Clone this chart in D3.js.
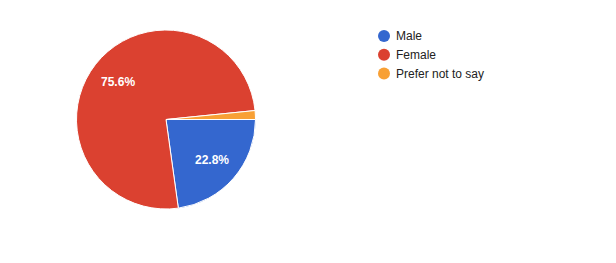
<!DOCTYPE html>
<html>
<head>
<meta charset="utf-8">
<script src="https://cdn.jsdelivr.net/npm/d3@7"></script>
<style>
  body { margin: 0; background: #fff; }
  text { font-family: Arial, "Liberation Sans", sans-serif; }
</style>
</head>
<body>
<svg></svg>
<script>
const categories = ["Male", "Female", "Prefer not to say"];
const values = [22.8, 75.6, 1.6];
const colors = ["#3467cf", "#db4130", "#f8a035"];

const width = 616;
const height = 263;
const cx = 166, cy = 119.5, radius = 89.5;

const svg = d3.select("svg").attr("width", width).attr("height", height);

const data = categories.map((c, i) => ({ name: c, value: values[i], color: colors[i] }));

// slices start at 3 o'clock and go clockwise
const pie = d3.pie()
  .value((d) => d.value)
  .sort(null)
  .startAngle(Math.PI / 2)
  .endAngle(Math.PI / 2 + 2 * Math.PI);

const arc = d3.arc().innerRadius(0).outerRadius(radius);
const labelArc = d3.arc().innerRadius(61).outerRadius(61);

const g = svg.append("g").attr("transform", `translate(${cx},${cy})`);

const arcs = pie(data);

g.selectAll("path")
  .data(arcs)
  .enter()
  .append("path")
  .attr("d", arc)
  .attr("fill", (d) => d.data.color)
  .attr("stroke", "#fff")
  .attr("stroke-width", 1);

g.selectAll("text")
  .data(arcs.filter((d) => d.data.value > 5))
  .enter()
  .append("text")
  .attr("transform", (d) => `translate(${labelArc.centroid(d)})`)
  .attr("dy", "0.35em")
  .attr("text-anchor", "middle")
  .attr("fill", "#fff")
  .attr("font-size", 12)
  .attr("font-weight", "bold")
  .text((d) => d.data.value.toFixed(1) + "%");

// legend
const legend = svg.append("g").attr("transform", "translate(384,36)");
const yLegend = d3.scalePoint().domain(categories).range([0, 37.5]);

const item = legend.selectAll("g")
  .data(data)
  .enter()
  .append("g")
  .attr("transform", (d) => `translate(0,${yLegend(d.name)})`);

item.append("circle").attr("r", 6).attr("fill", (d) => d.color);

item.append("text")
  .attr("x", 12)
  .attr("dy", "0.35em")
  .attr("font-size", 12)
  .attr("fill", "#222")
  .text((d) => d.name);
</script>
</body>
</html>
